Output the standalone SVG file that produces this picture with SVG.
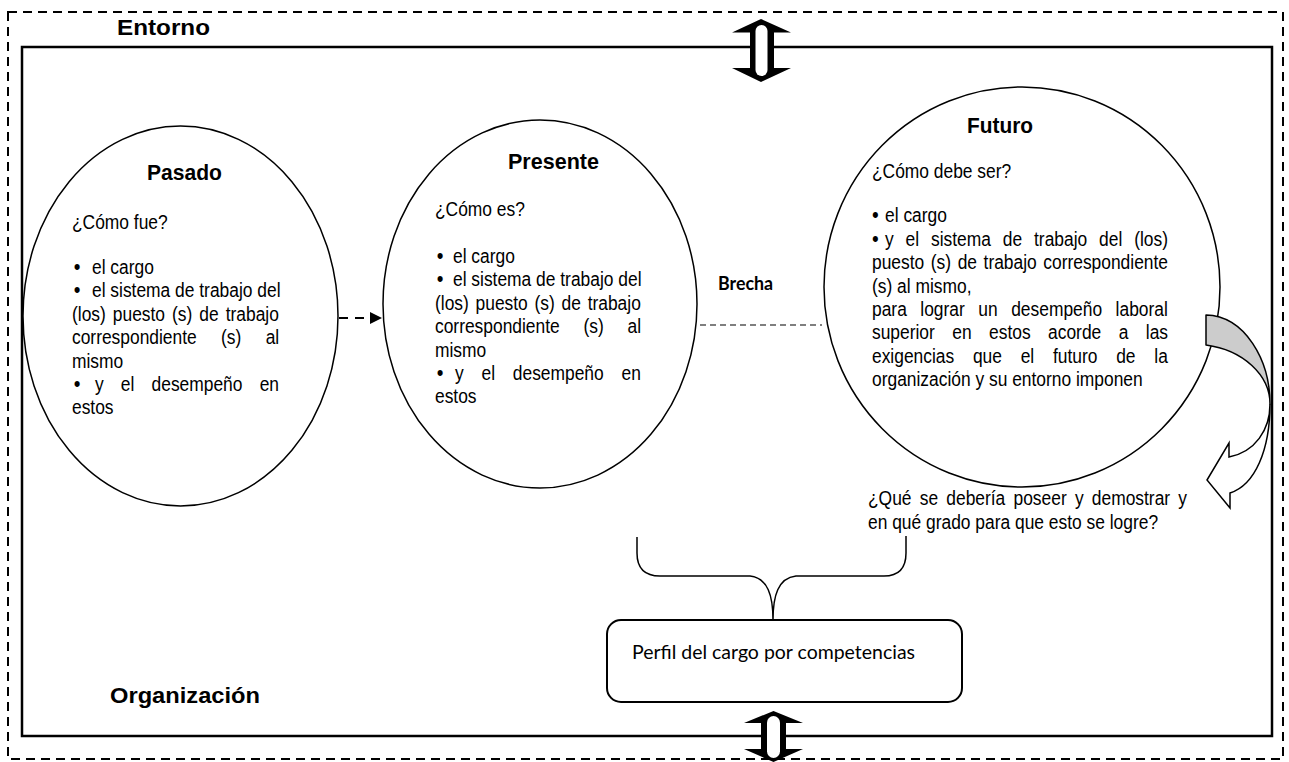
<svg xmlns="http://www.w3.org/2000/svg" width="1289" height="762" viewBox="0 0 1289 762">
  <defs>
    <style>
      .frame-dash { fill: none; stroke: #000; stroke-width: 2; stroke-dasharray: 9 6; }
      .frame { fill: none; stroke: #000; stroke-width: 2.5; }
      .oval { fill: #fff; stroke: #000; stroke-width: 1.5; }
      .t { font-family: "Liberation Sans", Arial, sans-serif; fill: #000; }
      .title { font-weight: bold; font-size: 22px; }
      .body { font-size: 20px; }
      .dot { font-size: 22px; }
      .cal { font-family: Lato, "Open Sans", sans-serif; fill: #000; }
      .gap { fill: none; stroke: #000; stroke-width: 1.2; stroke-dasharray: 6 4; }
      .flow { fill: none; stroke: #000; stroke-width: 2; stroke-dasharray: 9 7; }
      .line { fill: none; stroke: #000; stroke-width: 1.5; }
    </style>
    <marker id="head" viewBox="0 0 12 12" refX="0" refY="6" markerWidth="12" markerHeight="12" markerUnits="userSpaceOnUse" orient="auto">
      <path d="M0,0 L12,6 L0,12 Z" fill="#000"/>
    </marker>
  </defs>

  <rect x="0" y="0" width="1289" height="762" fill="#fff"/>

  <!-- environment (dashed) and organisation (solid) frames -->
  <g id="entorno">
    <rect class="frame-dash" x="8" y="12" width="1275" height="747"/>
    <text class="t title" x="117" y="35" font-size="23" textLength="93" lengthAdjust="spacingAndGlyphs">Entorno</text>
  </g>
  <g id="organizacion">
    <rect class="frame" x="22" y="47" width="1250" height="689"/>
    <text class="t title" x="110" y="703" font-size="24" textLength="150" lengthAdjust="spacingAndGlyphs">Organización</text>
  </g>

  <!-- past -->
  <g id="pasado">
    <ellipse class="oval" cx="180.5" cy="316" rx="157.5" ry="190"/>
    <text class="t title" x="147" y="180" textLength="75" lengthAdjust="spacingAndGlyphs">Pasado</text>
    <g class="t body" transform="translate(72 0) scale(0.87 1)">
      <text x="0" y="229">¿Cómo fue?</text>
      <text x="2" y="274"><tspan class="dot">•</tspan><tspan x="23">el cargo</tspan></text>
      <text x="2" y="297.4"><tspan class="dot">•</tspan><tspan x="23">el sistema de trabajo del</tspan></text>
      <text x="0" y="320.8" word-spacing="2.5">(los) puesto (s) de trabajo</text>
      <text x="0" y="344.2" word-spacing="22.4">correspondiente (s) al</text>
      <text x="0" y="367.6">mismo</text>
      <text x="2" y="391"><tspan class="dot">•</tspan><tspan x="26.4" word-spacing="14.2">y el desempeño en</tspan></text>
      <text x="0" y="414.4">estos</text>
    </g>
  </g>

  <!-- present -->
  <g id="presente">
    <ellipse class="oval" cx="540" cy="304" rx="157" ry="184"/>
    <text class="t title" x="508" y="169" textLength="91" lengthAdjust="spacingAndGlyphs">Presente</text>
    <g class="t body" transform="translate(435 0) scale(0.87 1)">
      <text x="0" y="216">¿Cómo es?</text>
      <text x="2" y="263"><tspan class="dot">•</tspan><tspan x="20.7">el cargo</tspan></text>
      <text x="2" y="286.4"><tspan class="dot">•</tspan><tspan x="20.7">el sistema de trabajo del</tspan></text>
      <text x="0" y="309.8" word-spacing="2.2">(los) puesto (s) de trabajo</text>
      <text x="0" y="333.2" word-spacing="21.8">correspondiente (s) al</text>
      <text x="0" y="356.6">mismo</text>
      <text x="2" y="380"><tspan class="dot">•</tspan><tspan x="23" word-spacing="14.9">y el desempeño en</tspan></text>
      <text x="0" y="403.4">estos</text>
    </g>
  </g>

  <!-- future -->
  <g id="futuro">
    <ellipse class="oval" cx="1022" cy="287" rx="198" ry="200"/>
    <text class="t title" x="967" y="133" textLength="66" lengthAdjust="spacingAndGlyphs">Futuro</text>
    <g class="t body" transform="translate(872 0) scale(0.87 1)">
      <text x="0" y="178">¿Cómo debe ser?</text>
      <text x="0" y="222"><tspan class="dot">•</tspan><tspan x="15">el cargo</tspan></text>
      <text x="0" y="246"><tspan class="dot">•</tspan><tspan x="15" word-spacing="8.1">y el sistema de trabajo del (los)</tspan></text>
      <text x="0" y="269.5" word-spacing="2">puesto (s) de trabajo correspondiente</text>
      <text x="0" y="293">(s) al mismo,</text>
      <text x="0" y="316" word-spacing="10">para lograr un desempeño laboral</text>
      <text x="0" y="339.5" word-spacing="14.5">superior en estos acorde a las</text>
      <text x="0" y="363" word-spacing="16">exigencias que el futuro de la</text>
      <text x="0" y="386">organización y su entorno imponen</text>
    </g>
  </g>

  <!-- question under the future -->
  <g id="pregunta" class="t body" transform="translate(868 0) scale(0.87 1)">
    <text x="0" y="505" word-spacing="3.9">¿Qué se debería poseer y demostrar y</text>
    <text x="0" y="529">en qué grado para que esto se logre?</text>
  </g>

  <!-- competency profile box -->
  <g id="perfil">
    <rect x="607" y="620" width="355" height="82" rx="14" fill="#fff" stroke="#000" stroke-width="2"/>
    <text class="cal" x="632" y="659" font-size="19" textLength="283" lengthAdjust="spacingAndGlyphs">Perfil del cargo por competencias</text>
  </g>

  <!-- gap label -->
  <g id="brecha">
    <text class="cal" x="718" y="290" font-size="18" font-weight="bold" textLength="55" lengthAdjust="spacingAndGlyphs">Brecha</text>
  </g>

  <g id="connectors">
    <!-- past to present -->
    <line class="flow" x1="339" y1="318" x2="370" y2="318" marker-end="url(#head)"/>
    <!-- gap between present and future -->
    <line class="gap" x1="700" y1="325" x2="822" y2="325"/>

    <!-- curved arrow leaving the future -->
    <path d="M1206,315 C1245,316 1270,360 1270,404 C1270,375 1243,350 1206,345 Z" fill="#cccccc" stroke="#000" stroke-width="1.5" stroke-linejoin="round"/>
    <path d="M1270,404 C1270,430 1255,452 1229,457 L1229,443 L1207,480 L1230,508 L1230,493 C1255,485 1270,450 1270,404 Z" fill="#fff" stroke="#000" stroke-width="1.5" stroke-linejoin="miter"/>

    <!-- brace gathering into the profile -->
    <path class="line" d="M637,537 L637,553 Q637,576 660,576 L750,576 C768,578 773,596 773,620 C773,596 778,578 796,576 L884,576 Q906,576 906,553 L906,536"/>

    <!-- organisation / environment exchange, top -->
    <g id="exchange-top">
      <polygon points="761,19 791,32.5 774,32.5 774,68 791,68 761,82 732,68 750,68 750,32.5 732,32.5" fill="#000"/>
      <rect x="755.5" y="25" width="12" height="51" rx="6" fill="#fff"/>
    </g>
    <!-- organisation / environment exchange, bottom -->
    <g id="exchange-bottom">
      <polygon points="773.5,711 803,723 786,723 786,749 803,749 773.5,762 744,749 761,749 761,723 744,723" fill="#000"/>
      <rect x="767" y="716" width="13" height="42" rx="6.5" fill="#fff"/>
    </g>
  </g>
</svg>
